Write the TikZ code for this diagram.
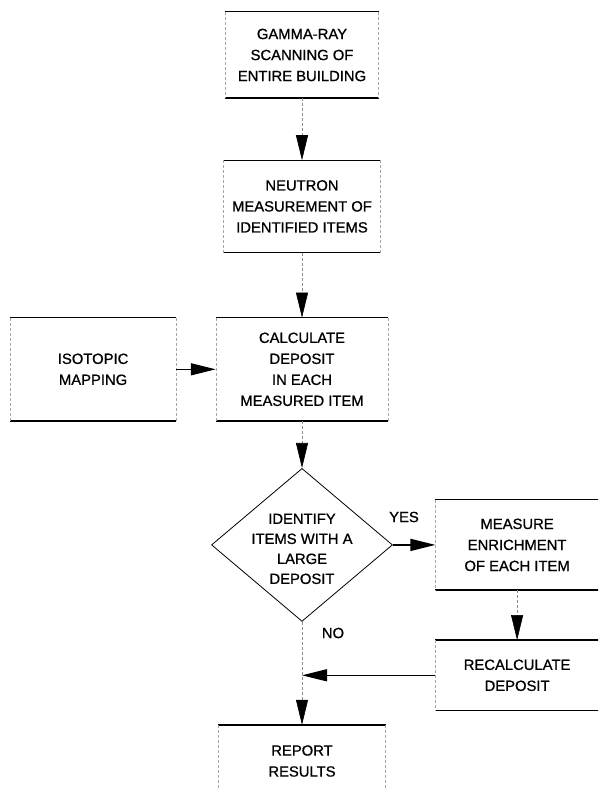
\documentclass[tikz,border=0pt]{standalone}
\usepackage{fontspec}
\setmainfont{Liberation Sans}[FakeBold=0.9]
\usetikzlibrary{shapes.geometric, arrows.meta, positioning}
\tikzset{
  block/.style={rectangle, align=center, inner sep=0pt,
    font=\fontsize{14.8}{21}\selectfont},
  decide/.style={diamond, draw, line width=0.8pt, inner sep=0pt,
    minimum width=181pt, minimum height=153pt},
  txt/.style={align=center, inner sep=0pt, font=\fontsize{14.8}{20}\selectfont},
  arr/.style={-{Triangle[length=25pt, width=12pt]}, line width=1.3pt},
  arrv/.style={-{Triangle[length=25pt, width=12pt, black]}, draw=black!45,
    densely dashed, line width=0.6pt},
  edge/.style={line width=1.4pt},
  side/.style={black!35, densely dashed, line width=0.6pt},
}

\begin{document}
\begin{tikzpicture}[x=1pt, y=1pt]

\useasboundingbox (0,0) rectangle (598,-789);
\clip (0,0) rectangle (598,-789);

% ── Main column ──
\node[block, minimum width=153pt, minimum height=86pt] (gamma) at (302,-55)
  {GAMMA-RAY\\SCANNING OF\\ENTIRE BUILDING};
\node[block, below=62pt of gamma, minimum width=157pt, minimum height=92pt] (neutron)
  {NEUTRON\\MEASUREMENT OF\\IDENTIFIED ITEMS};
\node[block, below=65pt of neutron, minimum width=172pt, minimum height=103pt] (calc)
  {CALCULATE\\DEPOSIT\\IN EACH\\MEASURED ITEM};
\node[block, left=40pt of calc, minimum width=165pt, minimum height=103pt] (isotopic)
  {ISOTOPIC\\MAPPING};

% ── Decision ──
\node[decide, below=47pt of calc] (identify) {};
\node[txt, yshift=-4pt] (identifytext) at (identify)
  {IDENTIFY\\ITEMS WITH A\\LARGE\\DEPOSIT};
\node[txt] (yes) at (404,-517) {YES};
\node[txt] (no) at (333,-633) {NO};

% ── Right branch ──
\node[block, right=42.5pt of identify, minimum width=163pt, minimum height=90pt] (measure)
  {MEASURE\\ENRICHMENT\\OF EACH ITEM};
\node[block, below=50pt of measure, minimum width=163pt, minimum height=70pt] (recalc)
  {RECALCULATE\\DEPOSIT};

% ── Result ──
\node[block, below=103pt of identify, minimum width=167pt, minimum height=72pt] (report)
  {REPORT\\RESULTS};

% ── Box edges ──
\foreach \n in {gamma, neutron, calc, isotopic, measure, recalc, report} {
  \draw[edge] (\n.north west) -- (\n.north east);
  \draw[edge] (\n.south west) -- (\n.south east);
  \draw[side] (\n.north west) -- (\n.south west);
  \draw[side] (\n.north east) -- (\n.south east);
}

% ── Arrows ──
\draw[arrv] (gamma) -- (neutron);
\draw[arrv] (neutron) -- (calc);
\draw[arr] (isotopic) -- (calc);
\draw[arrv] (calc) -- (identify);
\draw[arr] (identify) -- (measure);
\draw[arrv] (measure) -- (recalc);
\draw[arrv] (identify) -- (report);
\draw[arr] (recalc) -- (recalc -| identify);

\end{tikzpicture}
\end{document}
